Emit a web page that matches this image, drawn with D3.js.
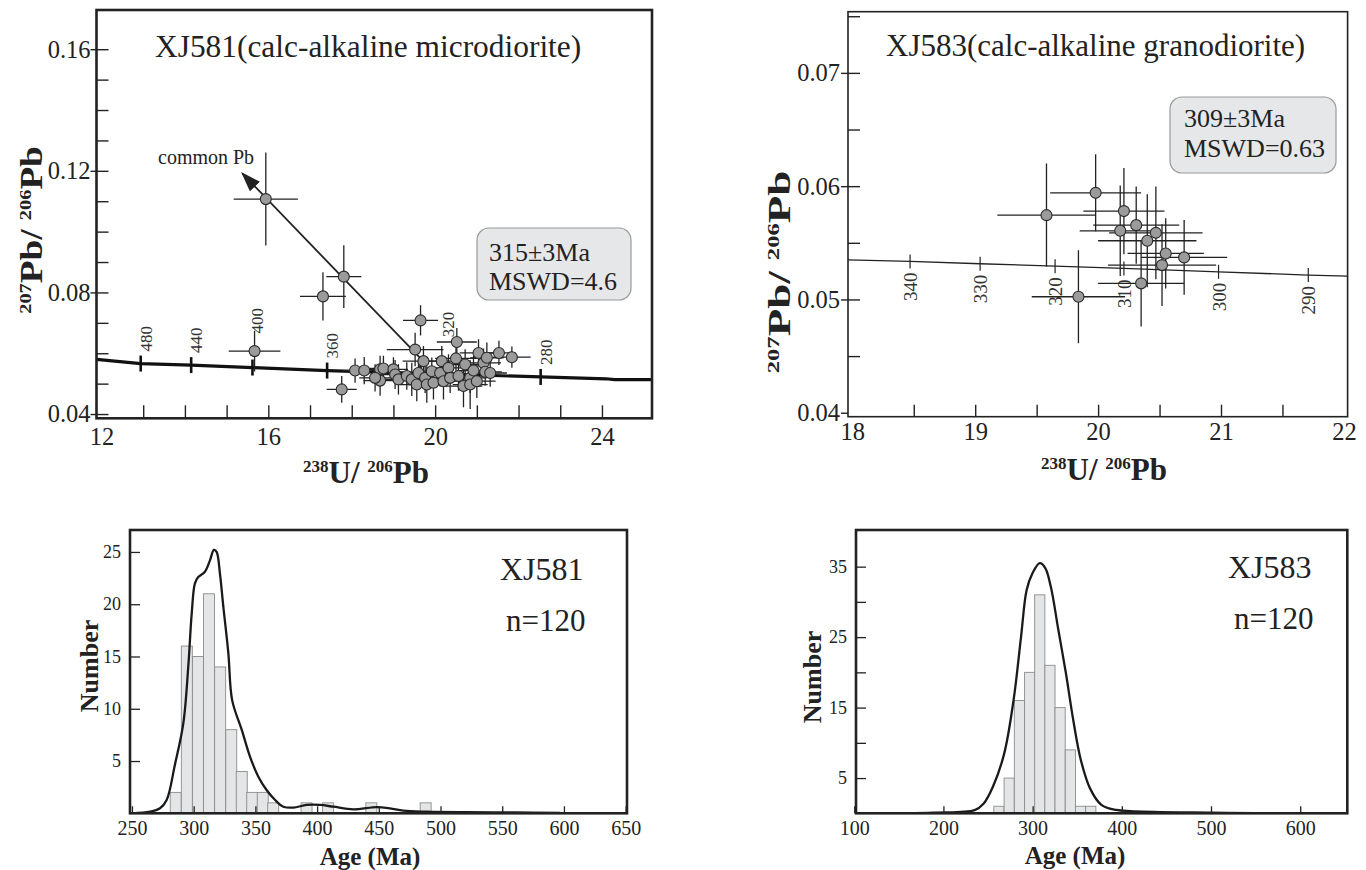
<!DOCTYPE html>
<html>
<head>
<meta charset="utf-8">
<script src="https://cdn.jsdelivr.net/npm/d3@7"></script>
<style>
  html, body { margin: 0; padding: 0; background: #fff; }
  svg text { font-family: "Liberation Serif", "Times New Roman", serif; }
</style>
</head>
<body>
<svg id="chart" width="1366" height="870"></svg>
<script>
// ---------- data ----------
// XJ581 Tera-Wasserburg points: [238U/206Pb, 207Pb/206Pb, err x, err y]
const xj581Points = [
  [15.94, 0.1107, 0.77, 0.0153], [17.81, 0.0852, 0.42, 0.0103], [17.31, 0.0787, 0.55, 0.0079],
  [15.67, 0.0607, 0.62, 0.0067], [19.65, 0.0708, 0.42, 0.0050], [17.76, 0.0481, 0.36, 0.0044],
  [19.52, 0.0612, 0.68, 0.0055], [20.52, 0.0637, 0.48, 0.0046], [21.04, 0.0601, 0.45, 0.0045],
  [21.53, 0.0601, 0.40, 0.0040], [21.84, 0.0587, 0.45, 0.0035],
  [18.08, 0.0543, 0.30, 0.0040], [18.30, 0.0543, 0.32, 0.0045], [18.68, 0.0547, 0.35, 0.0045],
  [18.76, 0.0550, 0.35, 0.0042], [18.68, 0.0510, 0.40, 0.0050], [18.56, 0.0519, 0.38, 0.0045],
  [19.00, 0.0547, 0.35, 0.0040], [19.04, 0.0530, 0.40, 0.0048], [19.12, 0.0514, 0.42, 0.0050],
  [19.32, 0.0525, 0.40, 0.0045], [19.44, 0.0514, 0.45, 0.0055], [19.56, 0.0497, 0.40, 0.0055],
  [19.60, 0.0535, 0.45, 0.0045], [19.72, 0.0574, 0.50, 0.0050], [19.76, 0.0519, 0.40, 0.0050],
  [19.80, 0.0497, 0.45, 0.0060], [19.92, 0.0541, 0.40, 0.0045], [19.96, 0.0503, 0.38, 0.0055],
  [20.12, 0.0535, 0.42, 0.0045], [20.16, 0.0574, 0.45, 0.0050], [20.20, 0.0508, 0.40, 0.0060],
  [20.32, 0.0552, 0.42, 0.0045], [20.36, 0.0519, 0.45, 0.0050], [20.50, 0.0583, 0.50, 0.0055],
  [20.56, 0.0525, 0.42, 0.0048], [20.68, 0.0492, 0.45, 0.0070], [20.72, 0.0563, 0.45, 0.0050],
  [20.84, 0.0519, 0.40, 0.0050], [20.84, 0.0497, 0.42, 0.0080], [20.92, 0.0543, 0.40, 0.0048],
  [21.00, 0.0508, 0.45, 0.0055], [21.16, 0.0568, 0.42, 0.0048], [21.20, 0.0539, 0.40, 0.0045],
  [21.24, 0.0585, 0.40, 0.0050], [21.32, 0.0535, 0.40, 0.0045]
];
const xj581Concordia = [
  [11.88, 0.0580], [12.94, 0.0566], [14.15, 0.0561], [15.62, 0.0553], [17.41, 0.0543],
  [19.65, 0.0534], [22.53, 0.0522], [24.10, 0.0516], [24.30, 0.0513], [25.20, 0.0513]
];
// [age Ma, 238U/206Pb, 207Pb/206Pb]
const xj581AgeTicks = [
  [480, 12.94, 0.0566], [440, 14.15, 0.0561], [400, 15.62, 0.0553],
  [360, 17.41, 0.0543], [320, 19.65, 0.0534], [280, 22.53, 0.0522]
];
const commonPbArrow = [[19.68, 0.0579], [15.38, 0.1191]];
const xj581XTicks = [12, 16, 20, 24];
const xj581YTicks = [0.04, 0.08, 0.12, 0.16];

// XJ583
const xj583Points = [
  [19.58, 0.05744, 0.40, 0.00456], [19.98, 0.05941, 0.37, 0.00340], [20.21, 0.05780, 0.33, 0.00380],
  [20.18, 0.05606, 0.33, 0.00400], [20.31, 0.05656, 0.35, 0.00340], [20.40, 0.05518, 0.40, 0.00410],
  [20.47, 0.05588, 0.38, 0.00410], [20.55, 0.05406, 0.31, 0.00310], [20.70, 0.05371, 0.35, 0.00330],
  [20.52, 0.05303, 0.44, 0.00360], [20.35, 0.05142, 0.35, 0.00380], [19.84, 0.05024, 0.38, 0.00410]
];
const xj583Concordia = [
  [17.965, 0.05350], [18.47, 0.05336], [19.04, 0.05315], [19.65, 0.05294],
  [20.21, 0.05274], [20.98, 0.05244], [21.71, 0.05215], [22.03, 0.05205]
];
const xj583AgeTicks = [
  [340, 18.47, 0.05336], [330, 19.04, 0.05315], [320, 19.65, 0.05294],
  [310, 20.21, 0.05274], [300, 20.98, 0.05244], [290, 21.71, 0.05215]
];
const xj583XTicks = [18, 19, 20, 21, 22];
const xj583YTicks = [0.04, 0.05, 0.06, 0.07];

// histograms: bin left edge (Ma) and count
const xj581BinWidth = 8.9;
const xj581Bins = [281, 290, 299, 308, 317, 326, 334.5, 343, 351.5, 360, 387, 404.5, 439.5, 483.5];
const xj581Counts = [2, 16, 15, 21, 14, 8, 4, 2, 2, 1, 1, 1, 1, 1];
const xj581Kde = [
  [250, 0], [264.6, 0.15], [272.7, 0.48], [278.1, 1.27], [284.7, 4.6], [291.6, 8.6], [295.6, 14.0],
  [298.4, 19.1], [301, 22.0], [303.7, 22.6], [309.1, 23.1], [313.2, 24.2], [316.4, 25.2],
  [318.6, 25.0], [321.3, 22.9], [324, 19.8], [328.1, 15.3], [331.2, 10.8], [338.9, 8.0],
  [345.7, 5.4], [352.4, 3.5], [359.2, 2.2], [366, 1.27], [372.7, 0.63], [380.8, 0.55],
  [391.6, 0.8], [402.4, 0.8], [413.2, 0.63], [429.4, 0.38], [448.3, 0.6], [459.1, 0.48],
  [469.9, 0.25], [488.8, 0.15], [520, 0.1], [560, 0.08], [597, 0.05]
];
const xj581HistX = [250, 300, 350, 400, 450, 500, 550, 600, 650];
const xj581HistY = [5, 10, 15, 20, 25];

const xj583BinWidth = 11.44;
const xj583Bins = [256.5, 268, 279.5, 291, 302.3, 313.7, 325.1, 336.6, 348, 359.5];
const xj583Counts = [1, 5, 16, 20, 31, 21, 15, 9, 1, 1];
const xj583Kde = [
  [102, 0], [189, 0.1], [235, 0.45], [245.2, 1.4], [255.6, 3.8], [268.2, 8.5], [278.7, 16.1],
  [287, 25.0], [293.3, 31.7], [299.6, 34.0], [308, 35.5], [314.2, 34.8], [320.5, 32.1],
  [328.9, 26.0], [337.3, 19.9], [345.6, 13.2], [354, 7.6], [364.5, 3.5], [377.1, 1.2],
  [393.8, 0.47], [435.8, 0.2], [498.6, 0.1], [548.9, 0.02]
];
const xj583HistX = [100, 200, 300, 400, 500, 600];
const xj583HistYLabels = [5, 15, 25, 35];
const xj583HistYMinor = [5, 10, 15, 20, 25, 30, 35];

// ---------- drawing ----------
const ink = '#222';
const svg = d3.select('#chart');
const defs = svg.append('defs');

defs.append('marker')
  .attr('id', 'arrow')
  .attr('viewBox', '0 0 10 10')
  .attr('refX', 9).attr('refY', 5)
  .attr('markerWidth', 20).attr('markerHeight', 14)
  .attr('markerUnits', 'userSpaceOnUse')
  .attr('preserveAspectRatio', 'none')
  .attr('orient', 'auto')
  .append('path').attr('d', 'M0,0L10,5L0,10Z').attr('fill', ink);

function clip(id, box) {
  defs.append('clipPath').attr('id', id)
    .append('rect').attr('x', box.x0).attr('y', box.y0)
    .attr('width', box.x1 - box.x0).attr('height', box.y1 - box.y0);
  return `url(#${id})`;
}

function frame(box, sw) {
  svg.append('rect')
    .attr('x', box.x0).attr('y', box.y0)
    .attr('width', box.x1 - box.x0).attr('height', box.y1 - box.y0)
    .attr('fill', 'none').attr('stroke', ink).attr('stroke-width', sw);
}

function clean(g, fs, sw = 1.4) {
  g.attr('font-family', null).attr('font-size', null);
  g.select('.domain').remove();
  g.selectAll('line').attr('stroke', ink).attr('stroke-width', sw);
  g.selectAll('text').attr('fill', ink).attr('font-size', fs);
  return g;
}

function axes(box, x, y, o) {
  clean(svg.append('g').attr('transform', `translate(${box.x0},0)`)
    .call(d3.axisLeft(y).tickValues(o.yMinor).tickSize(-o.tickIn).tickFormat('')), 0);
  clean(svg.append('g').attr('transform', `translate(${box.x0},0)`)
    .call(d3.axisLeft(y).tickValues(o.yMajor).tickSize(o.tickOut).tickPadding(o.yPad).tickFormat(o.yFmt)), o.yFs);
  clean(svg.append('g').attr('transform', `translate(0,${box.y1})`)
    .call(d3.axisBottom(x).tickValues(o.xMinor).tickSize(-o.xTickIn).tickFormat('')), 0);
  clean(svg.append('g').attr('transform', `translate(0,${box.y1})`)
    .call(d3.axisBottom(x).tickValues(o.xMajor).tickSize(0).tickPadding(o.xPad).tickFormat(o.xFmt)), o.xFs);
}

// title with isotope superscripts, e.g. 207Pb/ 206Pb
function isoTitle(parts, cx, cy, rotated, mainFs, supFs, stretch) {
  const t = svg.append('text')
    .attr('transform', `translate(${cx},${cy})${rotated ? ' rotate(-90)' : ''} scale(${stretch},1)`)
    .attr('text-anchor', 'middle').attr('font-weight', 'bold').attr('fill', ink);
  const rise = Math.round(mainFs * 0.36);
  t.append('tspan').attr('font-size', supFs).attr('dy', -rise).text(parts[0]);
  t.append('tspan').attr('font-size', mainFs).attr('dy', rise).text(parts[1]);
  t.append('tspan').attr('font-size', supFs).attr('dy', -rise).text(parts[2]);
  t.append('tspan').attr('font-size', mainFs).attr('dy', rise).text(parts[3]);
}

function label(txt, x, y, fs, opts = {}) {
  const t = svg.append('text').attr('x', x).attr('y', y)
    .attr('font-size', fs).attr('fill', ink).text(txt);
  if (opts.bold) t.attr('font-weight', 'bold');
  if (opts.anchor) t.attr('text-anchor', opts.anchor);
  if (opts.rotate) t.attr('x', null).attr('y', null)
    .attr('transform', `translate(${x},${y}) rotate(-90)`);
  return t;
}

function ageBox(x, y, w, h, lines, tx, ty, dy) {
  svg.append('rect').attr('x', x).attr('y', y).attr('width', w).attr('height', h)
    .attr('rx', 12).attr('fill', '#e6e7e9').attr('stroke', '#9a9a9a').attr('stroke-width', 1.2);
  lines.forEach((s, i) => label(s, tx, ty + i * dy, 26));
}

function errorBars(x, y, data, clipUrl) {
  const g = svg.append('g').attr('clip-path', clipUrl);
  g.selectAll('line.ex').data(data).join('line').attr('class', 'ex')
    .attr('x1', d => x(d[0] - d[2])).attr('x2', d => x(d[0] + d[2]))
    .attr('y1', d => y(d[1])).attr('y2', d => y(d[1]))
    .attr('stroke', ink).attr('stroke-width', 1.3);
  g.selectAll('line.ey').data(data).join('line').attr('class', 'ey')
    .attr('x1', d => x(d[0])).attr('x2', d => x(d[0]))
    .attr('y1', d => y(d[1] - d[3])).attr('y2', d => y(d[1] + d[3]))
    .attr('stroke', ink).attr('stroke-width', 1.3);
}

function circles(x, y, data, r) {
  svg.append('g').selectAll('circle').data(data).join('circle')
    .attr('cx', d => x(d[0])).attr('cy', d => y(d[1])).attr('r', r)
    .attr('fill', '#9b9b9b').attr('stroke', '#2a2a2a').attr('stroke-width', 1.1);
}

// ===== XJ581 isochron (top left) =====
const tlBox = { x0: 96.5, x1: 652, y0: 10, y1: 418.3 };
const tlx = d3.scaleLinear().domain([11.88, 25.2]).range([tlBox.x0, tlBox.x1]);
const tly = d3.scaleLinear().domain([0.0386, 0.1729]).range([tlBox.y1, tlBox.y0]);
const tlClip = clip('tlclip', tlBox);
// labels that sit higher / further right to clear the points
const tlLabelShift = { 400: [0, -22], 320: [22, -24] };

svg.append('path').datum(xj581Concordia)
  .attr('d', d3.line().x(d => tlx(d[0])).y(d => tly(d[1])))
  .attr('fill', 'none').attr('stroke', '#111').attr('stroke-width', 3.2).attr('clip-path', tlClip);

svg.append('g').selectAll('line').data(xj581AgeTicks).join('line')
  .attr('x1', d => tlx(d[1])).attr('x2', d => tlx(d[1]))
  .attr('y1', d => tly(d[2]) - 8).attr('y2', d => tly(d[2]) + 8)
  .attr('stroke', '#111').attr('stroke-width', 2.6);
svg.append('g').selectAll('text').data(xj581AgeTicks).join('text')
  .attr('transform', d => {
    const s = tlLabelShift[d[0]] || [0, 0];
    return `translate(${tlx(d[1]) + 11 + s[0]},${tly(d[2]) - 12 + s[1]}) rotate(-90)`;
  })
  .attr('font-size', 17).attr('fill', '#333').text(d => d[0]);

errorBars(tlx, tly, xj581Points, tlClip);

svg.append('line')
  .attr('x1', tlx(commonPbArrow[0][0])).attr('y1', tly(commonPbArrow[0][1]))
  .attr('x2', tlx(commonPbArrow[1][0])).attr('y2', tly(commonPbArrow[1][1]))
  .attr('stroke', ink).attr('stroke-width', 1.8).attr('marker-end', 'url(#arrow)');
label('common Pb', 158, 164, 20);

circles(tlx, tly, xj581Points, 5.5);

axes(tlBox, tlx, tly, {
  yMinor: d3.range(0.04, 0.1651, 0.01), yMajor: xj581YTicks, tickIn: 12, tickOut: 6, yPad: 0,
  yFmt: d3.format('.2f'), yFs: 24.5,
  xMinor: d3.range(13, 24.5, 1), xTickIn: 13, xMajor: xj581XTicks, xPad: 9,
  xFmt: d3.format('d'), xFs: 24.5
});
frame(tlBox, 2.6);

label('XJ581(calc-alkaline microdiorite)', 155, 57, 31.4);
ageBox(477, 228, 154, 72, ['315\u00b13Ma', 'MSWD=4.6'], 489, 261, 29);
isoTitle(['238', 'U/ ', '206', 'Pb'], 366, 483, false, 31, 17, 1);
isoTitle(['207', 'Pb/ ', '206', 'Pb'], 42, 230, true, 31, 17, 1.2);

// ===== XJ583 isochron (top right) =====
const trBox = { x0: 848, x1: 1347.6, y0: 11.7, y1: 416.7 };
const trx = d3.scaleLinear().domain([17.965, 22.03]).range([trBox.x0, trBox.x1]);
const tryS = d3.scaleLinear().domain([0.03965, 0.0754]).range([trBox.y1, trBox.y0]);
const trClip = clip('trclip', trBox);

svg.append('path').datum(xj583Concordia)
  .attr('d', d3.line().x(d => trx(d[0])).y(d => tryS(d[1])))
  .attr('fill', 'none').attr('stroke', ink).attr('stroke-width', 1.3).attr('clip-path', trClip);
svg.append('g').selectAll('line').data(xj583AgeTicks).join('line')
  .attr('x1', d => trx(d[1])).attr('x2', d => trx(d[1]))
  .attr('y1', d => tryS(d[2]) - 7).attr('y2', d => tryS(d[2]) + 7)
  .attr('stroke', ink).attr('stroke-width', 1.2);
svg.append('g').selectAll('text').data(xj583AgeTicks).join('text')
  .attr('transform', d => `translate(${trx(d[1]) + 7},${tryS(d[2]) + 11}) rotate(-90)`)
  .attr('text-anchor', 'end').attr('font-size', 19).attr('fill', '#333').text(d => d[0]);

errorBars(trx, tryS, xj583Points, trClip);
circles(trx, tryS, xj583Points, 5.5);

axes(trBox, trx, tryS, {
  yMinor: d3.range(0.045, 0.0751, 0.005), yMajor: xj583YTicks, tickIn: 12, tickOut: 7, yPad: 1,
  yFmt: d3.format('.2f'), yFs: 24.5,
  xMinor: d3.range(18.5, 21.6, 0.5), xTickIn: 12, xMajor: xj583XTicks, xPad: 6,
  xFmt: d3.format('d'), xFs: 24.5
});
frame(trBox, 1.6);

label('XJ583(calc-alkaline granodiorite)', 886, 56, 31);
ageBox(1170, 97, 166, 76, ['309\u00b13Ma', 'MSWD=0.63'], 1184, 127, 30);
isoTitle(['238', 'U/ ', '206', 'Pb'], 1104, 480, false, 31, 17, 1);
isoTitle(['207', 'Pb/ ', '206', 'Pb'], 790, 272, true, 31, 17, 1.45);

// ===== histograms =====
function histogram(box, x, y, bins, width, counts, kde, o) {
  const c = clip(o.id, box);
  svg.append('g').selectAll('rect').data(bins).join('rect')
    .attr('x', d => x(d)).attr('width', d => x(d + width) - x(d))
    .attr('y', (d, i) => y(counts[i])).attr('height', (d, i) => y(0) - y(counts[i]))
    .attr('fill', '#e4e5e7').attr('stroke', '#8c8c8c').attr('stroke-width', 0.9);
  svg.append('path').datum(kde)
    .attr('d', d3.line().curve(d3.curveCatmullRom).x(d => x(d[0])).y(d => y(d[1])))
    .attr('fill', 'none').attr('stroke', '#1a1a1a').attr('stroke-width', 2.3).attr('clip-path', c);
  clean(svg.append('g').attr('transform', `translate(${box.x0},0)`)
    .call(d3.axisLeft(y).tickValues(o.yMinor).tickSize(-10).tickFormat('')), 0, 1.3);
  clean(svg.append('g').attr('transform', `translate(${box.x0},0)`)
    .call(d3.axisLeft(y).tickValues(o.yLabels).tickSize(0).tickPadding(9).tickFormat(d3.format('d'))), 18);
  clean(svg.append('g').attr('transform', `translate(0,${box.y1})`)
    .call(d3.axisBottom(x).tickValues(o.xTicks).tickSize(-7).tickPadding(8).tickFormat(d3.format('d'))), 20, 1.3);
  frame(box, 2.6);
  label(o.name, o.nx, o.ny, 32);
  label('n=120', o.nx + 6, o.ny + 51, 31);
  label('Number', o.yTitle[0], o.yTitle[1], 26, { bold: true, anchor: 'middle', rotate: true });
  label('Age (Ma)', o.xTitle[0], o.xTitle[1], 25, { bold: true, anchor: 'middle' });
}

const blBox = { x0: 130, x1: 627, y0: 530, y1: 813.3 };
const blx = d3.scaleLinear().domain([248.4, 651.1]).range([blBox.x0, blBox.x1]);
const bly = d3.scaleLinear().domain([0, 27.1]).range([blBox.y1, blBox.y0]);
histogram(blBox, blx, bly, xj581Bins, xj581BinWidth, xj581Counts, xj581Kde, {
  id: 'blclip', yMinor: xj581HistY, yLabels: xj581HistY, xTicks: xj581HistX,
  name: 'XJ581', nx: 500, ny: 580, yTitle: [98, 666], xTitle: [370, 865]
});

const brBox = { x0: 856, x1: 1347.3, y0: 530, y1: 813.3 };
const brx = d3.scaleLinear().domain([102, 652.8]).range([brBox.x0, brBox.x1]);
const bry = d3.scaleLinear().domain([0, 40.2]).range([brBox.y1, brBox.y0]);
histogram(brBox, brx, bry, xj583Bins, xj583BinWidth, xj583Counts, xj583Kde, {
  id: 'brclip', yMinor: xj583HistYMinor, yLabels: xj583HistYLabels, xTicks: xj583HistX,
  name: 'XJ583', nx: 1228, ny: 578, yTitle: [821, 677], xTitle: [1075, 864]
});
</script>
</body>
</html>
